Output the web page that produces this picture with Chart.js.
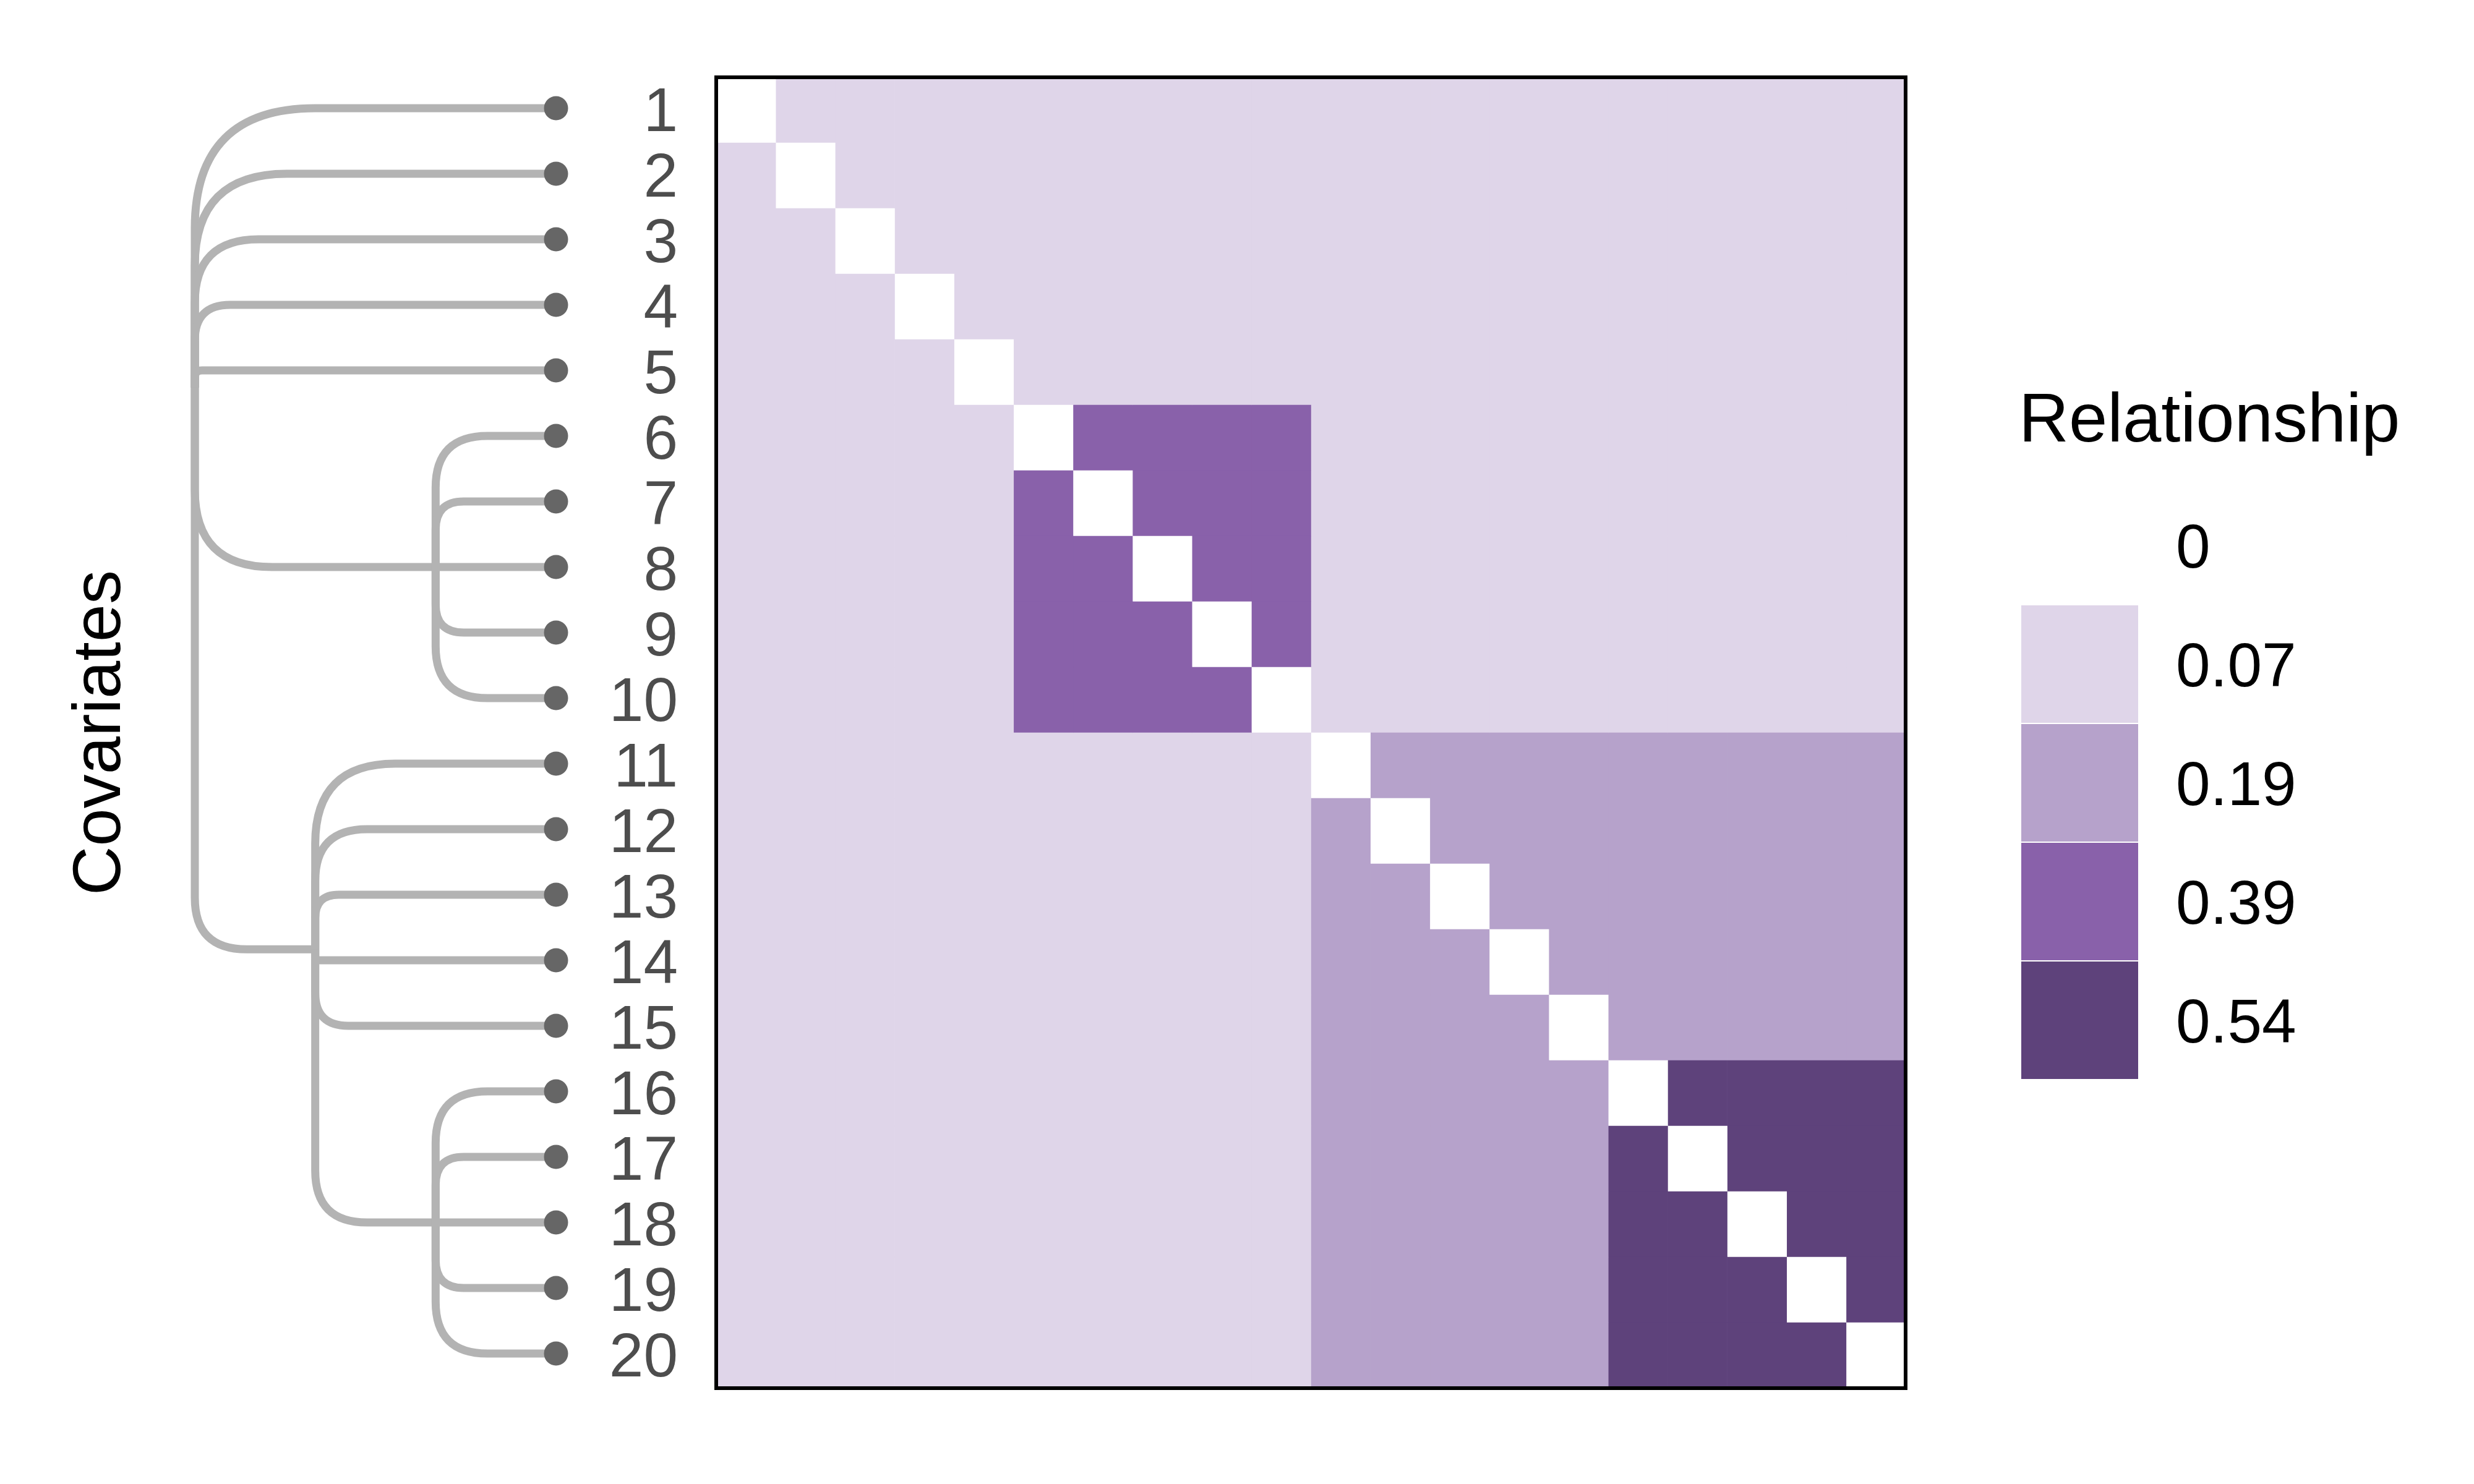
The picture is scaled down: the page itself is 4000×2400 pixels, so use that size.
<!DOCTYPE html>
<html lang="en">
<head>
    <meta charset="UTF-8">
    <title>Covariate relationship heatmap</title>
    <script src="https://cdn.jsdelivr.net/npm/chart.js"></script>
    <style>
        * { margin: 0; padding: 0; box-sizing: border-box; }
        body { background: #ffffff; width: 4000px; height: 2400px; overflow: hidden; }
        .chart-box { position: relative; width: 4000px; height: 2400px; }
    </style>
</head>
<body>
    <div class="chart-box">
        <canvas id="heatmap"></canvas>
    </div>

    <script>
        // covariates, top to bottom
        const covariates = ['1', '2', '3', '4', '5', '6', '7', '8', '9', '10',
                            '11', '12', '13', '14', '15', '16', '17', '18', '19', '20'];

        // legend levels and their fill colours
        const relLevels = [0, 0.07, 0.19, 0.39, 0.54];
        const relColors = ['#ffffff', '#dfd5e9', '#b6a2cb', '#8961aa', '#5e427b'];

        // relationship matrix, row i = covariate i, column j = covariate j
        const a = 0.07, b = 0.19, c = 0.39, d = 0.54;
        const relMatrix = [
            [0, a, a, a, a, a, a, a, a, a, a, a, a, a, a, a, a, a, a, a],
            [a, 0, a, a, a, a, a, a, a, a, a, a, a, a, a, a, a, a, a, a],
            [a, a, 0, a, a, a, a, a, a, a, a, a, a, a, a, a, a, a, a, a],
            [a, a, a, 0, a, a, a, a, a, a, a, a, a, a, a, a, a, a, a, a],
            [a, a, a, a, 0, a, a, a, a, a, a, a, a, a, a, a, a, a, a, a],
            [a, a, a, a, a, 0, c, c, c, c, a, a, a, a, a, a, a, a, a, a],
            [a, a, a, a, a, c, 0, c, c, c, a, a, a, a, a, a, a, a, a, a],
            [a, a, a, a, a, c, c, 0, c, c, a, a, a, a, a, a, a, a, a, a],
            [a, a, a, a, a, c, c, c, 0, c, a, a, a, a, a, a, a, a, a, a],
            [a, a, a, a, a, c, c, c, c, 0, a, a, a, a, a, a, a, a, a, a],
            [a, a, a, a, a, a, a, a, a, a, 0, b, b, b, b, b, b, b, b, b],
            [a, a, a, a, a, a, a, a, a, a, b, 0, b, b, b, b, b, b, b, b],
            [a, a, a, a, a, a, a, a, a, a, b, b, 0, b, b, b, b, b, b, b],
            [a, a, a, a, a, a, a, a, a, a, b, b, b, 0, b, b, b, b, b, b],
            [a, a, a, a, a, a, a, a, a, a, b, b, b, b, 0, b, b, b, b, b],
            [a, a, a, a, a, a, a, a, a, a, b, b, b, b, b, 0, d, d, d, d],
            [a, a, a, a, a, a, a, a, a, a, b, b, b, b, b, d, 0, d, d, d],
            [a, a, a, a, a, a, a, a, a, a, b, b, b, b, b, d, d, 0, d, d],
            [a, a, a, a, a, a, a, a, a, a, b, b, b, b, b, d, d, d, 0, d],
            [a, a, a, a, a, a, a, a, a, a, b, b, b, b, b, d, d, d, d, 0]
        ];

        // dendrogram: internal nodes, their merge heights and children
        const treeNodes = ['root', 'B', 'C', 'D'];
        const treeHeights = [3, 1, 2, 1];
        const treeChildren = [
            ['1', '2', '3', '4', '5', 'B', 'C'],
            ['6', '7', '8', '9', '10'],
            ['11', '12', '13', '14', '15', 'D'],
            ['16', '17', '18', '19', '20']
        ];

        const FONT = "'Liberation Sans', Arial, Helvetica, sans-serif";

        const colorFor = v => relColors[relLevels.indexOf(v)];

        // one dataset per column, each cell a unit segment of the stacked bar
        const datasets = covariates.map((col, j) => ({
            label: col,
            data: covariates.map(() => 1),
            backgroundColor: relMatrix.map(row => colorFor(row[j])),
            borderWidth: 0,
            barPercentage: 1,
            categoryPercentage: 1
        }));

        const framePlugin = {
            id: 'frame',
            afterDatasetsDraw(chart) {
                const { ctx, chartArea: ca } = chart;
                ctx.save();
                ctx.strokeStyle = '#000000';
                ctx.lineWidth = 6;
                ctx.strokeRect(ca.left, ca.top, ca.right - ca.left, ca.bottom - ca.top);
                ctx.restore();
            }
        };

        const dendroPlugin = {
            id: 'dendro',
            afterDraw(chart) {
                const { ctx } = chart;
                const yScale = chart.scales.y;
                const leafX = 899, rootX = 315;
                const maxH = Math.max(...treeHeights);
                const xFor = h => leafX - h / maxH * (leafX - rootX);

                const pos = {};
                covariates.forEach((name, i) => {
                    pos[name] = { x: leafX, y: yScale.getPixelForValue(i) - 3 };
                });
                // resolve internal nodes bottom-up
                const order = [1, 3, 2, 0];
                order.forEach(k => {
                    const ys = treeChildren[k].map(ch => pos[ch].y);
                    pos[treeNodes[k]] = {
                        x: xFor(treeHeights[k]),
                        y: ys.reduce((s, v) => s + v, 0) / ys.length
                    };
                });

                ctx.save();
                ctx.strokeStyle = '#b3b3b3';
                ctx.lineWidth = 13;
                ctx.lineCap = 'butt';
                ctx.lineJoin = 'round';
                treeNodes.forEach((node, k) => {
                    const p = pos[node];
                    treeChildren[k].forEach(ch => {
                        const q = pos[ch];
                        const dy = q.y - p.y;
                        const r = 0.43 * Math.min(Math.abs(dy), q.x - p.x);
                        ctx.beginPath();
                        ctx.moveTo(p.x, p.y);
                        if (r > 1) {
                            ctx.lineTo(p.x, q.y - Math.sign(dy) * r);
                            ctx.quadraticCurveTo(p.x, q.y, p.x + r, q.y);
                        } else {
                            ctx.lineTo(p.x, q.y);
                        }
                        ctx.lineTo(q.x, q.y);
                        ctx.stroke();
                    });
                });

                ctx.fillStyle = '#666666';
                covariates.forEach(name => {
                    ctx.beginPath();
                    ctx.arc(pos[name].x, pos[name].y, 19.5, 0, Math.PI * 2);
                    ctx.fill();
                });
                ctx.restore();
            }
        };

        const legendPlugin = {
            id: 'relLegend',
            afterDraw(chart) {
                const { ctx } = chart;
                const keyX = chart.chartArea.right + 187;
                const keyTop = 787, keyW = 189, keyH = 190, keyGap = 2;
                ctx.save();
                ctx.fillStyle = '#000000';
                ctx.font = `112px ${FONT}`;
                ctx.textAlign = 'left';
                ctx.textBaseline = 'alphabetic';
                ctx.fillText('Relationship', keyX - 4, 714);

                ctx.font = `100px ${FONT}`;
                ctx.textBaseline = 'middle';
                relLevels.forEach((lv, i) => {
                    const y = keyTop + i * (keyH + keyGap);
                    ctx.fillStyle = relColors[i];
                    ctx.fillRect(keyX, y, keyW, keyH);
                    ctx.fillStyle = '#000000';
                    ctx.fillText(String(lv), keyX + 250, y + keyH / 2 + 8);
                });
                ctx.restore();
            }
        };

        new Chart(document.getElementById('heatmap'), {
            type: 'bar',
            data: { labels: covariates, datasets: datasets },
            options: {
                indexAxis: 'y',
                responsive: true,
                maintainAspectRatio: false,
                animation: false,
                events: [],
                layout: { padding: { left: 0, right: 919, top: 125, bottom: 155 } },
                plugins: {
                    legend: { display: false },
                    tooltip: { enabled: false }
                },
                scales: {
                    x: {
                        stacked: true,
                        min: 0,
                        max: covariates.length,
                        display: false
                    },
                    y: {
                        stacked: true,
                        position: 'left',
                        grid: { display: false, drawTicks: false },
                        border: { display: false },
                        ticks: {
                            color: '#4d4d4d',
                            font: { family: FONT, size: 100 },
                            padding: 62,
                            labelOffset: 6,
                            autoSkip: false
                        },
                        title: {
                            display: true,
                            text: 'Covariates',
                            color: '#000000',
                            font: { family: FONT, size: 110 },
                            padding: { top: 98, bottom: 0 }
                        },
                        afterFit(scale) { scale.width = 1158; }
                    }
                }
            },
            plugins: [framePlugin, dendroPlugin, legendPlugin]
        });
    </script>
</body>
</html>
